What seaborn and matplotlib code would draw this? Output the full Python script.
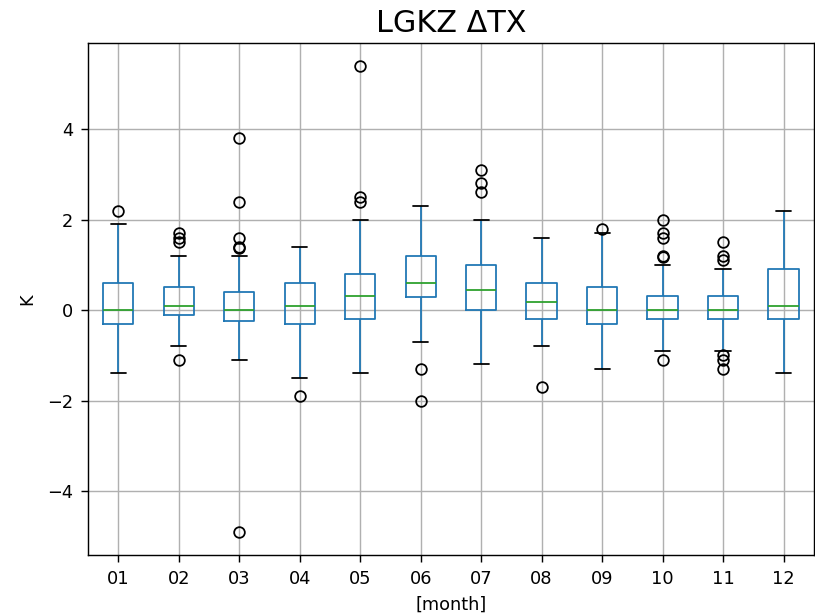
import numpy as np
import pandas as pd
import matplotlib
matplotlib.use("Agg")
import matplotlib.pyplot as plt
import seaborn as sns

# Monthly distribution of ΔTX at LGKZ (K): box statistics per month
months = ["01", "02", "03", "04", "05", "06", "07", "08", "09", "10", "11", "12"]
whisker_low = [-1.4, -0.8, -1.1, -1.5, -1.4, -0.7, -1.2, -0.8, -1.3, -0.9, -0.9, -1.4]
quartile_1 = [-0.3, -0.1, -0.25, -0.3, -0.2, 0.28, 0.0, -0.2, -0.3, -0.2, -0.2, -0.2]
median = [0.0, 0.1, 0.0, 0.1, 0.3, 0.6, 0.45, 0.18, 0.0, 0.0, 0.0, 0.1]
quartile_3 = [0.6, 0.5, 0.4, 0.6, 0.8, 1.2, 1.0, 0.6, 0.5, 0.3, 0.3, 0.9]
whisker_high = [1.9, 1.2, 1.2, 1.4, 2.0, 2.3, 2.0, 1.6, 1.7, 1.0, 0.9, 2.2]
outliers = [
    [2.2],
    [1.5, 1.6, 1.7, -1.1],
    [3.8, 2.4, 1.6, 1.4, 1.38, -4.9],
    [-1.9],
    [5.4, 2.5, 2.4],
    [-1.3, -2.0],
    [3.1, 2.8, 2.6],
    [-1.7],
    [1.8],
    [2.0, 1.7, 1.6, 1.2, 1.18, -1.1],
    [1.5, 1.2, 1.1, -1.0, -1.1, -1.3],
    [],
]


def month_sample(lo, q1, med, q3, hi, fl):
    """Ordered sample of size 4k+1 whose quartiles, whisker ends and
    outliers are exactly the given statistics."""
    low = sorted(v for v in fl if v < med)
    high = sorted(v for v in fl if v > med)
    k = max(len(low), len(high)) + 1
    vals = (low + [lo] + [q1] * (k - len(low)) + [med] * k + [q3] * k
            + [q3] * (k - len(high) - 1) + [hi] + high)
    return vals


rows = []
for m, lo, q1, md, q3, hi, fl in zip(months, whisker_low, quartile_1, median,
                                     quartile_3, whisker_high, outliers):
    for v in month_sample(lo, q1, md, q3, hi, fl):
        rows.append({"month": m, "K": v})
df = pd.DataFrame(rows)

sns.set_style("ticks", {"axes.grid": True, "grid.color": "#b0b0b0",
                        "axes.edgecolor": "black", "xtick.color": "black",
                        "ytick.color": "black", "text.color": "black",
                        "axes.labelcolor": "black"})
plt.rcParams["font.family"] = ["DejaVu Sans"]
plt.rcParams["font.size"] = 10
plt.rcParams["grid.linewidth"] = 0.8

fig = plt.figure(figsize=(815 / 128, 616 / 128), dpi=128)
ax = fig.add_axes([0.108, 0.099, 0.8905, 0.832])

blue = "#1f77b4"
sns.boxplot(
    data=df, x="month", y="K", order=months, ax=ax,
    width=0.5, fill=False, whis=1.5, linewidth=1.0,
    boxprops={"color": blue, "linewidth": 1.0},
    whiskerprops={"color": blue, "linewidth": 1.0},
    capprops={"color": "black", "linewidth": 1.0},
    medianprops={"color": "#2ca02c", "linewidth": 1.0},
    flierprops={"marker": "o", "markersize": 6, "markerfacecolor": "none",
                "markeredgecolor": "black", "markeredgewidth": 1.0},
)

ax.grid(True, color="#b0b0b0", linewidth=0.8)
ax.set_axisbelow(True)
ax.set_xlim(-0.5, len(months) - 0.5)
ax.set_ylim(-5.415, 5.915)
ax.set_xlabel("[month]", fontsize=10, labelpad=4.5)
ax.set_ylabel("K", fontsize=10, labelpad=6)
ax.set_title("LGKZ ΔTX", fontsize=17)
for s in ax.spines.values():
    s.set_visible(True)
    s.set_color("black")
    s.set_linewidth(0.8)
ax.tick_params(axis="both", labelsize=10, length=3.8, width=0.8, pad=4.6)

fig.savefig("out.png", dpi=128)
